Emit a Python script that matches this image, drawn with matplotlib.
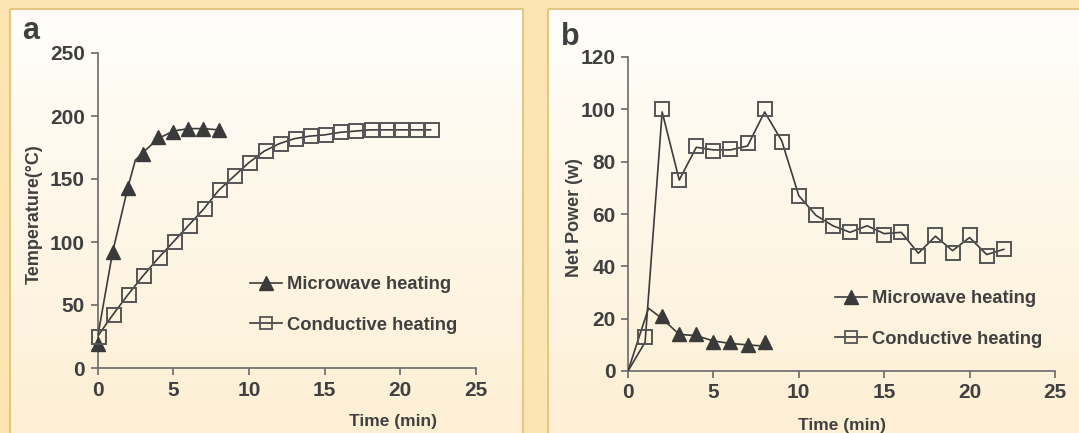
import numpy as np
import matplotlib
matplotlib.use("Agg")
import matplotlib.pyplot as plt
from matplotlib.patches import Rectangle
from matplotlib.lines import Line2D

plt.rcParams['font.family'] = ['Liberation Sans', 'DejaVu Sans']
plt.rcParams['font.weight'] = 'bold'

# ---------------- data ----------------
# Panel a: temperature (°C) vs time (min)
a_mw_t = [0, 1, 2, 3, 4, 5, 6, 7, 8]
a_mw_temp = [19, 92, 143, 170, 183, 187, 190, 190, 189]
a_mw_line_t = [0, 1, 2, 2.5, 3, 4, 5, 6, 7, 8]
a_mw_line_temp = [24, 92, 143, 165, 171, 182, 188, 190, 190, 189]

a_cd_t = list(range(0, 23))
a_cd_temp = [25, 42, 58, 73, 87, 100, 113, 126, 141, 152, 163, 172, 178,
             182, 184, 185, 187, 188, 189, 189, 189, 189, 189]

# Panel b: net power (w) vs time (min)
b_mw_t = [2, 3, 4, 5, 6, 7, 8]
b_mw_pow = [21, 14, 14, 11, 11, 10, 11]
b_mw_line_t = [0, 1.2, 2, 3, 4, 5, 6, 7, 8]
b_mw_line_pow = [0, 24, 20, 14, 13.5, 11.5, 10.5, 10, 9.5]

b_cd_t = list(range(1, 23))
b_cd_pow = [13, 100, 73, 86, 84, 85, 87, 100, 87.5, 67, 59.5, 55.5, 53,
            55.5, 52, 53, 44, 52, 45, 52, 44, 46.5]
b_cd_line_t = [0] + b_cd_t
b_cd_line_pow = [0, 11, 99, 73, 85.5, 84.5, 84.5, 86, 99, 88, 67, 59.5, 55.5,
                 53, 55.5, 52.5, 53, 45, 51.5, 46, 51, 44.5, 46.5]

a_xticks = [0, 5, 10, 15, 20, 25]
a_yticks = [0, 50, 100, 150, 200, 250]
b_xticks = [0, 5, 10, 15, 20, 25]
b_yticks = [0, 20, 40, 60, 80, 100, 120]

labels = ["Microwave heating", "Conductive heating"]

# ---------------- figure ----------------
W, H = 1079, 433
fig = plt.figure(figsize=(W / 100, H / 100), dpi=100)
fig.patch.set_facecolor('#fde5b2')

TXT = '#404040'
LN = '#3c3c3c'
SPINE = '#6a6a6a'

# background panels with vertical gradient
bg = fig.add_axes([0, 0, 1, 1], zorder=-10)
bg.set_xlim(0, W)
bg.set_ylim(H, 0)
bg.axis('off')
top = np.array([255, 254, 251]) / 255
bot = np.array([253, 239, 212]) / 255
grad = np.linspace(0, 1, 256)[:, None, None]
img = top * (1 - grad) + bot * grad
for (x0, x1) in [(10, 523), (548, 1090)]:
    bg.imshow(img, extent=[x0, x1, H + 5, 9], aspect='auto', zorder=1)
    r = Rectangle((x0, 9), x1 - x0, H, facecolor='none', edgecolor='#e5c685',
                  linewidth=1.5, zorder=2)
    bg.add_patch(r)


def style(ax, xt, yt, xl, yl):
    for s in ['top', 'right']:
        ax.spines[s].set_visible(False)
    for s in ['left', 'bottom']:
        ax.spines[s].set_color(SPINE)
        ax.spines[s].set_linewidth(1.2)
    ax.set_facecolor('none')
    ax.set_xticks(xt)
    ax.set_yticks(yt)
    ax.set_xlim(xt[0], xt[-1])
    ax.set_ylim(yt[0], yt[-1])
    ax.tick_params(direction='out', length=5, width=1.2, color=SPINE,
                   labelsize=15, labelcolor=TXT, pad=4)
    for lab in ax.get_xticklabels() + ax.get_yticklabels():
        lab.set_fontweight('bold')
    ax.set_xlabel(xl, fontsize=12.5, fontweight='bold', color=TXT)
    ax.set_ylabel(yl, fontsize=13, fontweight='bold', color=TXT)


tri_kw = dict(marker='^', markersize=10, markerfacecolor='#3a3a3a',
              markeredgecolor='#3a3a3a', linestyle='none', clip_on=False, zorder=4)
sq_kw = dict(marker='s', markersize=10.5, markerfacecolor='none',
             markeredgecolor='#555555', markeredgewidth=1.4, linestyle='none',
             clip_on=False, zorder=4)

# ---------- panel a ----------
axa = fig.add_axes([97.5 / W, 1 - 368 / H, (476 - 97.5) / W, (368 - 53) / H])
style(axa, a_xticks, a_yticks, "Time (min)", "Temperature(\u00b0C)")
axa.plot(a_mw_line_t, a_mw_line_temp, color=LN, lw=1.2, zorder=3)
axa.plot(a_cd_t, a_cd_temp, color=LN, lw=1.2, zorder=3)
axa.plot(a_mw_t, a_mw_temp, **tri_kw)
axa.plot([t + 0.1 for t in a_cd_t], a_cd_temp, **sq_kw)
axa.xaxis.set_label_coords((393 - 97.5) / (476 - 97.5), -0.145)
axa.yaxis.set_label_coords(-0.145, 0.49)

# ---------- panel b ----------
axb = fig.add_axes([628 / W, 1 - 371 / H, (1055 - 628) / W, (371 - 57) / H])
style(axb, b_xticks, b_yticks, "Time (min)", "Net Power (w)")
axb.plot(b_mw_line_t, b_mw_line_pow, color=LN, lw=1.2, zorder=3)
axb.plot(b_cd_line_t, b_cd_line_pow, color=LN, lw=1.2, zorder=3)
axb.plot(b_mw_t, b_mw_pow, **tri_kw)
axb.plot(b_cd_t, b_cd_pow, **sq_kw)
axb.xaxis.set_label_coords(0.5, -0.15)
axb.yaxis.set_label_coords(-0.105, 0.49)

# legends
handles = [Line2D([], [], color=LN, lw=1.2, marker='^', markersize=10,
                  markerfacecolor='#3a3a3a', markeredgecolor='#3a3a3a'),
           Line2D([], [], color=LN, lw=1.2, marker='s', markersize=8.5,
                  markerfacecolor='none', markeredgecolor='#555555', markeredgewidth=1.3)]
# legend anchors in pixel coords (left of handle, y of first row)
for ax, (px, py) in [(axa, (250, 288)), (axb, (835, 302))]:
    leg = ax.legend(handles, labels, loc='upper left',
                    bbox_to_anchor=(px / W, 1 - (py - 12) / H),
                    bbox_transform=fig.transFigure,
                    frameon=False, fontsize=13.2, handlelength=1.75,
                    handletextpad=0.27, labelspacing=1.3, borderaxespad=0,
                    borderpad=0)
    for t in leg.get_texts():
        t.set_color(TXT)
        t.set_fontweight('bold')

# panel letters
fig.text(22 / W, 1 - 39 / H, 'a', fontsize=22, fontweight='bold', color=TXT)
fig.text(561 / W, 1 - 45 / H, 'b', fontsize=22, fontweight='bold', color=TXT)

fig.savefig('out.png', dpi=100, facecolor=fig.get_facecolor())
